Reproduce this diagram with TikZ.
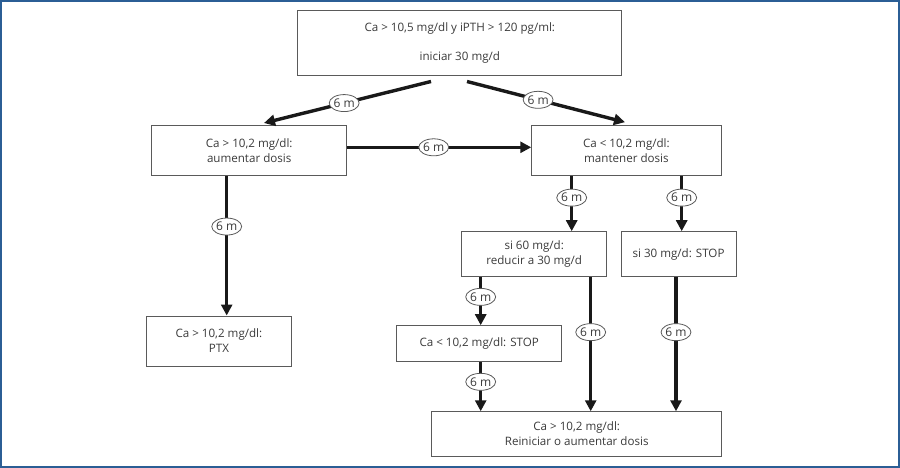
\documentclass[tikz,border=0pt]{standalone}
\usepackage{fontspec}
\setmainfont{Open Sans}
\usepackage{tikz}
\usetikzlibrary{shapes.geometric,arrows.meta}
\definecolor{framecol}{HTML}{2B5E95}
\definecolor{txtcol}{HTML}{3A3A3A}
\definecolor{boxcol}{HTML}{5A5A5A}
\def\flowbox(#1,#2,#3,#4,#5,#6){
  \node[box, minimum width=#4pt, minimum height=#5pt] (#1) at (#2,#3) {#6};
}

\begin{document}
\begin{tikzpicture}[x=1pt, y=-1pt,
  box/.style={draw=boxcol, line width=1pt, rectangle, inner sep=0pt, align=center,
    text=txtcol, font=\fontsize{11.6}{15}\selectfont},
  arr/.style={line width=3.4pt, color=black!90, -{Triangle[length=11pt,width=11pt]}},
  lbl/.style={draw=boxcol, line width=0.8pt, ellipse, fill=white, inner sep=0pt,
    minimum width=26pt, minimum height=17pt, text=txtcol, font=\fontsize{12}{12}\selectfont}]
\useasboundingbox (0,0) rectangle (900,468);
\draw[framecol, line width=2pt] (1,1) rectangle (899,467);
\flowbox(box_top,459.8,43.2,324,65,{Ca > 10,5 mg/dl y iPTH > 120 pg/ml:\\[13.7pt]iniciar 30 mg/d})
\flowbox(box_aum,249.2,151,195,50,{Ca > 10,2 mg/dl:\\aumentar dosis})
\flowbox(box_mant,626.4,150.7,189.3,50,{Ca < 10,2 mg/dl:\\mantener dosis})
\flowbox(box_ptx,218.9,341,145.7,50,{Ca > 10,2 mg/dl:\\PTX})
\flowbox(box_si60,534.2,254.2,145,45,{si 60 mg/d:\\reducir a 30 mg/d})
\flowbox(box_si30,678.5,254.2,115,45,{si 30 mg/d: STOP})
\flowbox(box_stop,479.2,343.7,165,36,{Ca < 10,2 mg/dl: STOP})
\flowbox(box_fin,576.7,433.9,290,44.3,{Ca > 10,2 mg/dl:\\Reiniciar o aumentar dosis})

\draw[arr] ([xshift=-28.8pt,yshift=-5.3pt]box_top.south) -- node[lbl, pos=0.52] (m_aum) {6 m} ([xshift=14.8pt,yshift=2.5pt]box_aum.north);
\draw[arr] ([xshift=7.2pt,yshift=-5.3pt]box_top.south) -- node[lbl, pos=0.45] (m_mant) {6 m} ([xshift=-1.4pt,yshift=3pt]box_mant.north);
\draw[arr] ([yshift=3.7pt]box_aum.east) -- node[lbl, pos=0.47] (m_cross) {6 m} ([yshift=3.7pt]box_aum.east -| box_mant.west);
\draw[arr] ([xshift=-22.5pt]box_aum.south) -- node[lbl, pos=0.36] (m_ptx) {6 m} ([xshift=-22.5pt]box_aum.south |- box_ptx.north);
\draw[arr] ([xshift=-54.7pt]box_mant.south) -- node[lbl, pos=0.39] (m_si60) {6 m} ([xshift=-54.7pt]box_mant.south |- box_si60.north);
\draw[arr] ([xshift=55.3pt]box_mant.south) -- node[lbl, pos=0.39] (m_si30) {6 m} ([xshift=55.3pt]box_mant.south |- box_si30.north);
\draw[arr] ([xshift=-53.5pt]box_si60.south) -- node[lbl, pos=0.41] (m_stop) {6 m} ([xshift=-53.5pt]box_si60.south |- box_stop.north);
\draw[arr] ([xshift=1.5pt]box_stop.south) -- node[lbl, pos=0.4] (m_fin1) {6 m} ([xshift=1.5pt]box_stop.south |- box_fin.north);
\draw[arr] ([xshift=56.5pt]box_si60.south) -- node[lbl, pos=0.41] (m_fin2) {6 m} ([xshift=56.5pt]box_si60.south |- box_fin.north);
\draw[arr] ([xshift=-2.5pt]box_si30.south) -- node[lbl, pos=0.41] (m_fin3) {6 m} ([xshift=-2.5pt]box_si30.south |- box_fin.north);
\end{tikzpicture}
\end{document}
